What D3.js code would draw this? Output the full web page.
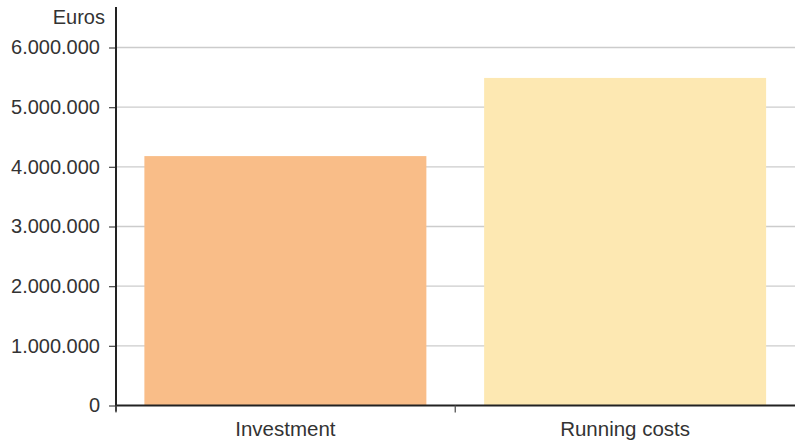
<!DOCTYPE html>
<html>
<head>
<meta charset="utf-8">
<script src="https://cdn.jsdelivr.net/npm/d3@7"></script>
<style>
  html, body { margin: 0; padding: 0; background: #fff; }
  svg { display: block; font-family: "Liberation Sans", Arial, sans-serif; }
</style>
</head>
<body>
<svg id="chart" width="795" height="446"></svg>
<script>
// Cost comparison, in euros
const categories = ["Investment", "Running costs"];
const values = [4180000, 5490000];
const barColors = ["#f9bd88", "#fde8b2"];
const yTicks = [0, 1000000, 2000000, 3000000, 4000000, 5000000, 6000000];
const yLabel = "Euros";

const svg = d3.select("#chart");
const W = 795, H = 446;
const x0 = 116, x1 = 795, yBase = 405.5, yTop = 7;

const x = d3.scaleBand()
  .domain(categories)
  .range([x0 - 0.5, x1])
  .paddingInner(0.17)
  .paddingOuter(0.085);

const y = d3.scaleLinear()
  .domain([0, 6000000])
  .range([yBase, 47.5]);

const fmt = d3.formatLocale({ decimal: ",", thousands: ".", grouping: [3], currency: ["", " €"] }).format(",d");

// horizontal gridlines
svg.append("g")
  .selectAll("line")
  .data(yTicks.filter(d => d > 0))
  .join("line")
  .attr("x1", x0).attr("x2", W)
  .attr("y1", d => y(d)).attr("y2", d => y(d))
  .attr("stroke", "#cccccc")
  .attr("stroke-width", 1.3);

// bars
svg.append("g")
  .selectAll("rect")
  .data(categories)
  .join("rect")
  .attr("x", d => x(d))
  .attr("width", x.bandwidth())
  .attr("y", (d, i) => y(values[i]))
  .attr("height", (d, i) => yBase - y(values[i]))
  .attr("fill", (d, i) => barColors[i]);

// y axis
const yAxis = svg.append("g")
  .attr("transform", `translate(${x0},0)`)
  .call(d3.axisLeft(y).tickValues(yTicks).tickFormat(fmt).tickSize(7).tickPadding(9));
yAxis.select(".domain").remove();
yAxis.append("line")
  .attr("x1", 0).attr("x2", 0)
  .attr("y1", yTop).attr("y2", yBase + 6)
  .attr("stroke", "#222").attr("stroke-width", 2);
yAxis.selectAll(".tick line").attr("stroke", "#555").attr("stroke-width", 1.3);
yAxis.selectAll(".tick text")
  .attr("fill", "#333")
  .style("font-size", "20px")
  .style("font-family", "Liberation Sans, Arial, sans-serif");

// axis title
svg.append("text")
  .attr("x", 105).attr("y", 24)
  .attr("text-anchor", "end")
  .attr("fill", "#333")
  .style("font-size", "20px")
  .text(yLabel);

// x axis baseline
svg.append("line")
  .attr("x1", x0 - 1).attr("x2", W)
  .attr("y1", yBase).attr("y2", yBase)
  .attr("stroke", "#222").attr("stroke-width", 2);

// ticks at band boundaries
const bounds = [x0, (x(categories[0]) + x.bandwidth() + x(categories[1])) / 2];
svg.append("g")
  .selectAll("line")
  .data(bounds)
  .join("line")
  .attr("x1", d => d).attr("x2", d => d)
  .attr("y1", yBase).attr("y2", yBase + 7)
  .attr("stroke", "#555").attr("stroke-width", 1.3);

// category labels
svg.append("g")
  .selectAll("text")
  .data(categories)
  .join("text")
  .attr("x", d => x(d) + x.bandwidth() / 2)
  .attr("y", 436)
  .attr("text-anchor", "middle")
  .attr("fill", "#333")
  .style("font-size", "20.5px")
  .text(d => d);
</script>
</body>
</html>
